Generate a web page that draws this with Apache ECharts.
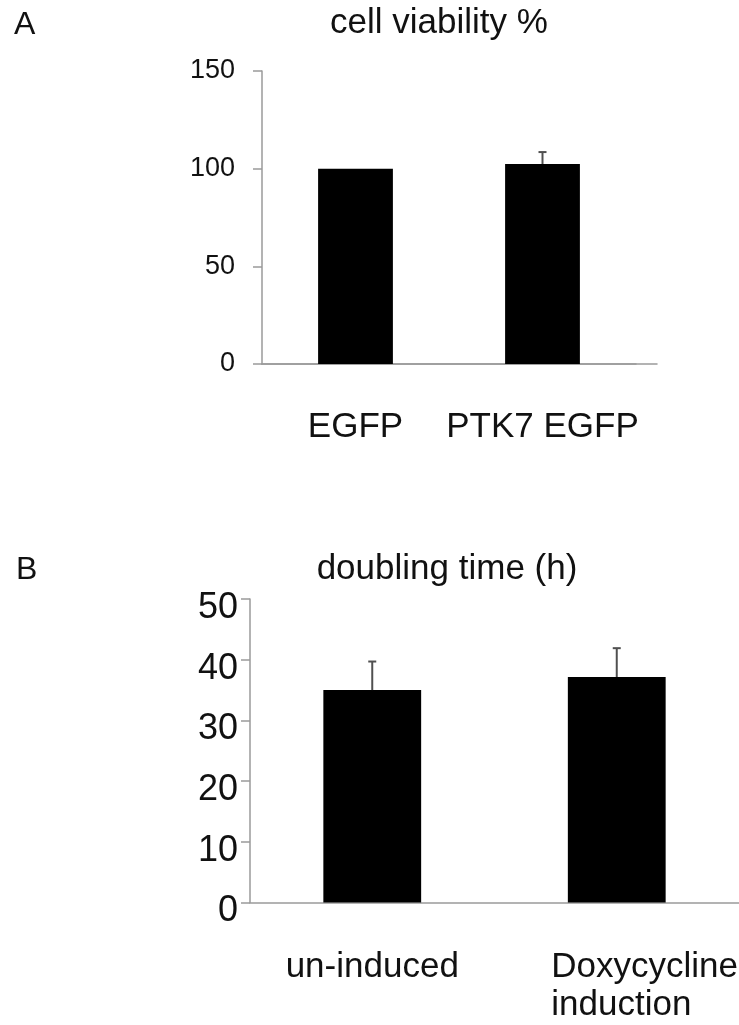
<!DOCTYPE html>
<html>
<head>
<meta charset="utf-8">
<script src="https://cdn.jsdelivr.net/npm/echarts@6/dist/echarts.min.js"></script>
<style>
  html, body { margin: 0; padding: 0; background: #fff; }
  #chart { width: 739px; height: 1025px; }
</style>
</head>
<body>
<div id="chart"></div>
<script>
// ---- Data ----
const panelLabels = ['A', 'B'];
const titleA = 'cell viability %';
const titleB = 'doubling time (h)';
const categoriesA = ['EGFP', 'PTK7 EGFP'];
const valuesA = [100, 102.4];
const errorsA = [0, 6.1];
const categoriesB = ['un-induced', 'Doxycycline\ninduction'];
const valuesB = [35.0, 37.15];
const errorsB = [4.7, 4.75];
const yTicksA = { min: 0, max: 150, interval: 50 };
const yTicksB = { min: 0, max: 50, interval: 10 };

// ---- Styling ----
const FONT = "'Liberation Sans', Arial, sans-serif";
const AXIS_COLOR = '#9a9a9a';
const ERR_COLOR = '#505050';

function errorSeries(xi, yi, values, errors) {
  return {
    type: 'custom',
    xAxisIndex: xi,
    yAxisIndex: yi,
    z: 5,
    data: values.map((v, i) => [i, v, errors[i]]),
    encode: { x: 0, y: 1 },
    renderItem: function (params, api) {
      const idx = api.value(0), mean = api.value(1), err = api.value(2);
      if (!err) return { type: 'group', children: [] };
      const p0 = api.coord([idx, mean]);
      const p1 = api.coord([idx, mean + err]);
      const style = { stroke: ERR_COLOR, lineWidth: 2 };
      return {
        type: 'group',
        children: [
          { type: 'line', shape: { x1: p0[0], y1: p0[1], x2: p1[0], y2: p1[1] }, style: style },
          { type: 'line', shape: { x1: p1[0] - 4, y1: p1[1], x2: p1[0] + 4, y2: p1[1] }, style: style }
        ]
      };
    }
  };
}

const valueAxisCommon = {
  type: 'value',
  splitLine: { show: false },
  axisLine: { show: true, lineStyle: { color: AXIS_COLOR, width: 1.5 } },
  axisTick: { show: true, inside: false, length: 9, lineStyle: { color: AXIS_COLOR, width: 1.5 } }
};

const chart = echarts.init(document.getElementById('chart'), null, { renderer: 'canvas' });
const option = {
  backgroundColor: '#ffffff',
  animation: false,
  title: [
    { text: panelLabels[0], left: 14, top: 6, padding: 0,
      textStyle: { fontFamily: FONT, fontSize: 32, fontWeight: 'normal', color: '#111', lineHeight: 38 } },
    { text: titleA, left: 439, top: 2, padding: 0, textAlign: 'center',
      textStyle: { fontFamily: FONT, fontSize: 35, fontWeight: 'normal', color: '#111', lineHeight: 42 } },
    { text: panelLabels[1], left: 16, top: 551, padding: 0,
      textStyle: { fontFamily: FONT, fontSize: 32, fontWeight: 'normal', color: '#111', lineHeight: 38 } },
    { text: titleB, left: 447, top: 548, padding: 0, textAlign: 'center',
      textStyle: { fontFamily: FONT, fontSize: 35, fontWeight: 'normal', color: '#111', lineHeight: 42 } }
  ],
  grid: [
    { left: 262, top: 71, width: 374, height: 293 },
    { left: 262, top: 71, width: 395, height: 293 },
    { left: 250, top: 599, width: 500, height: 303.5 }
  ],
  xAxis: [
    {
      type: 'category', gridIndex: 0, data: categoriesA,
      axisLine: { show: true, lineStyle: { color: AXIS_COLOR, width: 1.5 } },
      axisTick: { show: false },
      axisLabel: { interval: 0, margin: 44, fontFamily: FONT, fontSize: 35, lineHeight: 38, color: '#111' }
    },
    {
      type: 'category', gridIndex: 1, data: categoriesA,
      axisLine: { show: true, lineStyle: { color: AXIS_COLOR, width: 1.5 } },
      axisTick: { show: false },
      axisLabel: { show: false }
    },
    {
      type: 'category', gridIndex: 2, data: categoriesB,
      axisLine: { show: true, lineStyle: { color: AXIS_COLOR, width: 1.5 } },
      axisTick: { show: false },
      axisLabel: {
        interval: 0, margin: 46, fontFamily: FONT, fontSize: 35, lineHeight: 38, color: '#111',
        formatter: function (v) {
          const lines = v.split('\n');
          if (lines.length === 1) return v;
          return lines.map(l => '{w|' + l + '}').join('\n');
        },
        rich: {
          w: { fontFamily: FONT, fontSize: 35, lineHeight: 38, color: '#111', width: 187, align: 'left', padding: [0, 0, 0, 56] }
        }
      }
    }
  ],
  yAxis: [
    Object.assign({}, valueAxisCommon, {
      gridIndex: 0, min: yTicksA.min, max: yTicksA.max, interval: yTicksA.interval,
      axisLabel: { margin: 27, fontFamily: FONT, fontSize: 27, color: '#111' }
    }),
    {
      type: 'value', gridIndex: 1, min: yTicksA.min, max: yTicksA.max, show: false,
      splitLine: { show: false }
    },
    Object.assign({}, valueAxisCommon, {
      gridIndex: 2, min: yTicksB.min, max: yTicksB.max, interval: yTicksB.interval,
      axisLabel: { margin: 12, fontFamily: FONT, fontSize: 36, color: '#111', verticalAlign: 'top', lineHeight: 18 }
    })
  ],
  series: [
    { type: 'bar', xAxisIndex: 0, yAxisIndex: 0, data: valuesA, barWidth: '40%',
      itemStyle: { color: '#000' } },
    errorSeries(0, 0, valuesA, errorsA),
    { type: 'bar', xAxisIndex: 2, yAxisIndex: 2, data: valuesB, barWidth: '40%',
      itemStyle: { color: '#000' } },
    errorSeries(2, 2, valuesB, errorsB)
  ]
};
chart.setOption(option);
</script>
</body>
</html>
